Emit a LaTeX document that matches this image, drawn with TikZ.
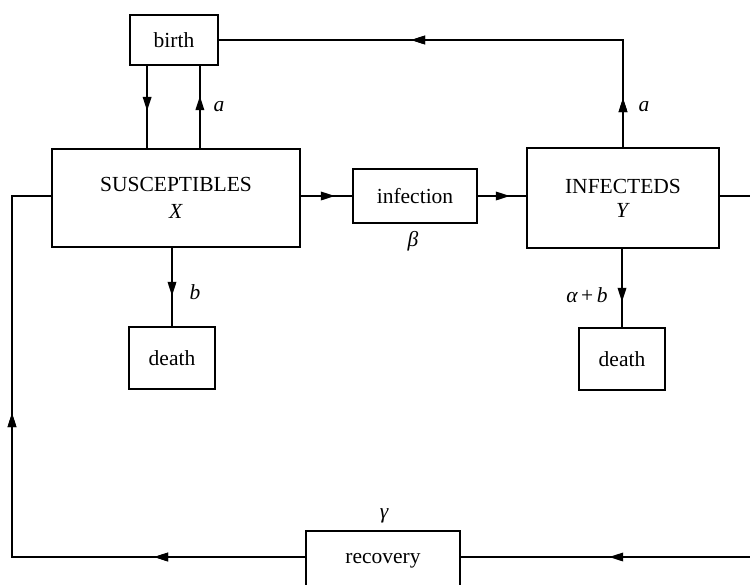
\documentclass[tikz,border=0pt]{standalone}
\usepackage{fontspec}
\setmainfont{Liberation Serif}
\usetikzlibrary{arrows.meta,decorations.markings}
\tikzset{
  box/.style={draw, line width=1.8pt, inner sep=0pt, align=center, font=\fontsize{21.5}{25}\selectfont},
  lbl/.style={inner sep=0pt, font=\fontsize{21.5}{25}\selectfont\itshape},
  conn/.style={line width=1.8pt},
  tipat/.style={postaction={decorate}, decoration={markings,
      mark=at position #1 with {\arrow{Stealth[length=14pt,width=8.5pt,inset=0pt]}}}},
}
\begin{document}
\begin{tikzpicture}[x=1pt,y=-1pt]
\useasboundingbox (0,0) rectangle (750,584);
\clip (0,0) rectangle (750,584);
\fill[white] (0,0) rectangle (750,584);
% nodes
\node[box, minimum width=88pt, minimum height=50pt] (birth) at (174,40) {birth};
\node[box, minimum width=248pt, minimum height=98pt] (S) at (176,198) {SUSCEPTIBLES\\[2pt]\textit{X}};
\node[box, minimum width=124pt, minimum height=54pt] (inf) at (415,196) {infection};
\node[box, minimum width=192pt, minimum height=100pt] (I) at (623,198) {INFECTEDS\\[-1pt]\textit{Y}};
\node[box, minimum width=86pt, minimum height=62pt] (Sd) at (172,358) {death};
\node[box, minimum width=86pt, minimum height=62pt] (Id) at (622,359) {death};
\node[box, minimum width=154pt, minimum height=60pt] (rec) at (383,561) {};
\node[inner sep=0pt, font=\fontsize{21.5}{25}\selectfont] (rect) at (383,561) {recovery};
\coordinate (rr) at (770,196);
\coordinate (rb) at (770,557);
\coordinate (ll) at (12,557);
\coordinate (lt) at (12,196);
% connectors
\draw[conn, tipat=45pt] ([xshift=18pt]birth.south west) -- ([xshift=18pt]birth.south west |- S.north);
\draw[conn, tipat=52pt] ([xshift=-19pt]birth.south east |- S.north) -- ([xshift=-19pt]birth.south east);
\draw[conn, tipat=49pt, tipat=319pt] (I.north) -- (I.north |- birth.east) -- (birth.east);
\draw[conn, tipat=34pt] (S.east |- inf.west) -- (inf.west);
\draw[conn, tipat=32pt] (inf.east) -- (inf.east -| I.west);
\draw[conn, tipat=48pt] (Sd.north |- S.south) -- (Sd.north);
\draw[conn, tipat=53pt] (Id.north |- I.south) -- (Id.north);
\draw[conn, tipat=151pt, tipat=437pt] (rec.west |- rb) -- (ll) -- (lt) -- (S.west |- lt);
\draw[conn, tipat=572pt] (I.east |- rr) -- (rr) -- (rb) -- (rec.east |- rb);
% labels
\node[lbl] (la1) at (219,107) {a};
\node[lbl] (la2) at (644,107) {a};
\node[lbl] (lb) at (195,292) {b};
\node[lbl] (lab) at (587,295) {α\,\upshape+\,\itshape b};
\node[lbl] (lbeta) at (413,241) {β};
\node[lbl] (lgam) at (384,516) {γ};
\end{tikzpicture}
\end{document}
